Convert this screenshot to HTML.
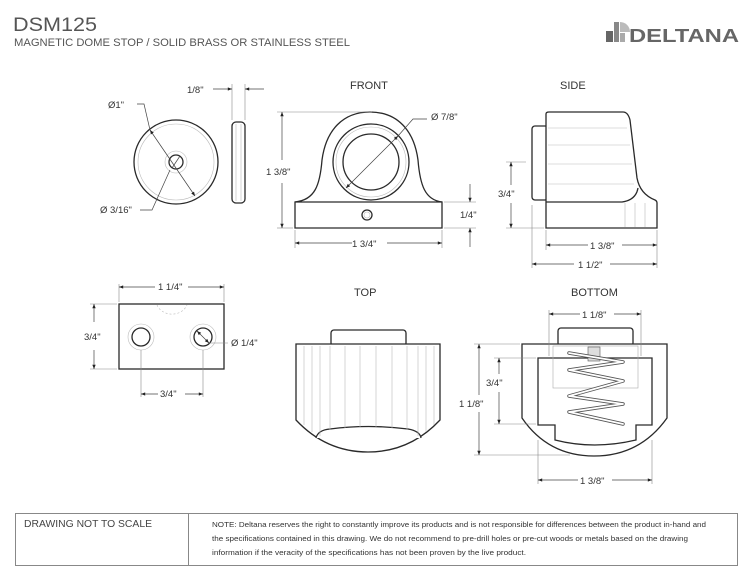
<!DOCTYPE html>
<html><head><meta charset="utf-8"><style>
html,body{margin:0;padding:0;background:#fff}
svg{display:block}
text{font-family:"Liberation Sans",Arial,sans-serif;fill:#333}
.o{fill:#fff;stroke:#2a2a2a;stroke-width:1.3}
.t{fill:none;stroke:#888;stroke-width:0.6}
.d{fill:none;stroke:#444;stroke-width:0.7}
.g{fill:none;stroke:#bbb;stroke-width:0.6}
</style></head><body>
<svg width="754" height="581" viewBox="0 0 754 581" xmlns="http://www.w3.org/2000/svg">
<defs>
<marker id="a" viewBox="0 0 10 10" refX="10" refY="5" markerWidth="9" markerHeight="6" orient="auto-start-reverse"><path d="M0,1 L10,5 L0,9 Z" fill="#222"/></marker>
</defs>
<!-- header -->
<text x="13" y="31" font-size="19" style="fill:#555" textLength="84" lengthAdjust="spacingAndGlyphs">DSM125</text>
<text x="14" y="46" font-size="11" style="fill:#555" textLength="336" lengthAdjust="spacingAndGlyphs">MAGNETIC DOME STOP / SOLID BRASS OR STAINLESS STEEL</text>
<rect x="606" y="31" width="7" height="11" fill="#666"/>
<rect x="614" y="22" width="5" height="20" fill="#888"/>
<path d="M620,22 A10,10 0 0 1 630,32 L620,32Z" fill="#bbb"/>
<rect x="620" y="33" width="5" height="9" fill="#aaa"/>
<text x="629" y="42" font-size="18" font-weight="bold" style="fill:#666" textLength="110" lengthAdjust="spacingAndGlyphs">DELTANA</text>

<g font-size="9.5">
<!-- disc -->
<circle cx="176" cy="162" r="42" class="o"/>
<circle cx="176" cy="162" r="38" class="g"/>
<circle cx="176" cy="162" r="11" class="g"/>
<circle cx="176" cy="162" r="7" class="o"/>
<line x1="150" y1="130" x2="195" y2="196" class="d" marker-start="url(#a)" marker-end="url(#a)"/>
<path d="M137,104 H144 L150,130" class="d"/>
<path d="M140,210 H152 L170,170" class="d"/>
<line x1="172" y1="168" x2="180" y2="156" class="d"/>
<text x="108" y="108">Ø1"</text>
<text x="100" y="213">Ø 3/16"</text>
<!-- edge -->
<rect x="232" y="122" width="13" height="81" rx="4" class="o"/>
<line x1="236" y1="124" x2="236" y2="201" class="g"/>
<line x1="241" y1="124" x2="241" y2="201" class="g"/>
<line x1="232" y1="84" x2="232" y2="120" class="t"/>
<line x1="245" y1="84" x2="245" y2="120" class="t"/>
<line x1="213" y1="89" x2="232" y2="89" class="d" marker-end="url(#a)"/>
<line x1="264" y1="89" x2="245" y2="89" class="d" marker-end="url(#a)"/>
<text x="187" y="93">1/8"</text>

<!-- FRONT -->
<text x="350" y="89" font-size="11">FRONT</text>
<path d="M295,202 C315,200 320,185 322,160 C326,130 343,112 370,112 C397,112 414,130 418,160 C420,185 425,200 442,202 L442,228 L295,228 Z" class="o"/>
<line x1="295" y1="202" x2="442" y2="202" class="o"/>
<circle cx="371" cy="162" r="38" class="o"/>
<circle cx="371" cy="162" r="35" class="g"/>
<circle cx="371" cy="162" r="28" class="o"/>
<circle cx="367" cy="215" r="5" class="o"/>
<circle cx="367" cy="215" r="3" class="g"/>
<line x1="346" y1="188" x2="398" y2="136" class="d" marker-start="url(#a)" marker-end="url(#a)"/>
<path d="M398,136 L413,119 H427" class="d"/>
<text x="431" y="120">Ø 7/8"</text>
<line x1="277" y1="112" x2="372" y2="112" class="t"/>
<line x1="277" y1="228" x2="293" y2="228" class="t"/>
<line x1="282" y1="112" x2="282" y2="160" class="d" marker-start="url(#a)"/>
<line x1="282" y1="183" x2="282" y2="228" class="d" marker-end="url(#a)"/>
<text x="266" y="175">1 3/8"</text>
<line x1="444" y1="202" x2="476" y2="202" class="t"/>
<line x1="444" y1="228" x2="476" y2="228" class="t"/>
<line x1="470" y1="184" x2="470" y2="202" class="d" marker-end="url(#a)"/>
<line x1="470" y1="247" x2="470" y2="228" class="d" marker-end="url(#a)"/>
<text x="460" y="218">1/4"</text>
<line x1="295" y1="230" x2="295" y2="248" class="t"/>
<line x1="442" y1="230" x2="442" y2="248" class="t"/>
<line x1="352" y1="243" x2="295" y2="243" class="d" marker-end="url(#a)"/>
<line x1="387" y1="243" x2="442" y2="243" class="d" marker-end="url(#a)"/>
<text x="352" y="247">1 3/4"</text>

<!-- SIDE -->
<text x="560" y="89" font-size="11">SIDE</text>
<rect x="532" y="126" width="16" height="74" rx="3" class="o"/>
<path d="M546,202 V114 Q546,112 549,112 H623 Q628,112 630,120 L637,178 Q640,194 655,200 Q657,201 657,203 V228 H546 Z" class="o"/>
<path d="M546,202 H622 Q636,200 638,188" class="o"/>
<line x1="548" y1="128" x2="627" y2="128" class="g"/>
<line x1="548" y1="145" x2="630" y2="145" class="g"/>
<line x1="548" y1="164" x2="632" y2="164" class="g"/>
<line x1="548" y1="184" x2="634" y2="184" class="g"/>
<line x1="625" y1="203" x2="625" y2="227" class="g"/>
<line x1="635" y1="203" x2="635" y2="227" class="g"/>
<line x1="645" y1="203" x2="645" y2="227" class="g"/>
<line x1="506" y1="162" x2="526" y2="162" class="t"/>
<line x1="506" y1="228" x2="544" y2="228" class="t"/>
<line x1="511" y1="162" x2="511" y2="185" class="d" marker-start="url(#a)"/>
<line x1="511" y1="203" x2="511" y2="228" class="d" marker-end="url(#a)"/>
<text x="498" y="197">3/4"</text>
<line x1="532" y1="205" x2="532" y2="268" class="t"/>
<line x1="546" y1="230" x2="546" y2="250" class="t"/>
<line x1="657" y1="230" x2="657" y2="268" class="t"/>
<line x1="588" y1="245" x2="546" y2="245" class="d" marker-end="url(#a)"/>
<line x1="622" y1="245" x2="657" y2="245" class="d" marker-end="url(#a)"/>
<text x="590" y="249">1 3/8"</text>
<line x1="574" y1="264" x2="532" y2="264" class="d" marker-end="url(#a)"/>
<line x1="610" y1="264" x2="657" y2="264" class="d" marker-end="url(#a)"/>
<text x="578" y="268">1 1/2"</text>

<!-- plate -->
<rect x="119" y="304" width="105" height="65" class="o"/>
<path d="M157,305 A16,14 0 0 0 187,305" fill="none" stroke="#bbb" stroke-width="0.6" stroke-dasharray="2,2"/>
<circle cx="141" cy="337" r="13" class="g"/>
<circle cx="141" cy="337" r="9" class="o"/>
<circle cx="203" cy="337" r="13" class="g"/>
<circle cx="203" cy="337" r="9" class="o"/>
<line x1="197" y1="331" x2="209" y2="343" class="d" marker-start="url(#a)" marker-end="url(#a)"/>
<line x1="209" y1="343" x2="228" y2="343" class="t"/>
<text x="231" y="346">Ø 1/4"</text>
<line x1="119" y1="284" x2="119" y2="302" class="t"/>
<line x1="224" y1="284" x2="224" y2="302" class="t"/>
<line x1="155" y1="287" x2="119" y2="287" class="d" marker-end="url(#a)"/>
<line x1="188" y1="287" x2="224" y2="287" class="d" marker-end="url(#a)"/>
<text x="158" y="290">1 1/4"</text>
<line x1="90" y1="304" x2="117" y2="304" class="t"/>
<line x1="90" y1="369" x2="117" y2="369" class="t"/>
<line x1="94" y1="322" x2="94" y2="304" class="d" marker-end="url(#a)"/>
<line x1="94" y1="350" x2="94" y2="369" class="d" marker-end="url(#a)"/>
<text x="84" y="340">3/4"</text>
<line x1="141" y1="350" x2="141" y2="397" class="t"/>
<line x1="203" y1="350" x2="203" y2="397" class="t"/>
<line x1="158" y1="394" x2="141" y2="394" class="d" marker-end="url(#a)"/>
<line x1="185" y1="394" x2="203" y2="394" class="d" marker-end="url(#a)"/>
<text x="160" y="397">3/4"</text>

<!-- TOP -->
<text x="354" y="296" font-size="11">TOP</text>
<rect x="331" y="330" width="75" height="16" rx="3" class="o"/>
<path d="M296,344 H440 V420 Q410,452 368,452 Q326,452 296,420 Z" class="o"/>
<path d="M316,438 Q318,430 330,429 Q368,424 408,429 Q420,431 421,438" class="o"/>
<g class="g">
<line x1="304" y1="346" x2="304" y2="425"/><line x1="312" y1="346" x2="312" y2="432"/><line x1="320" y1="346" x2="320" y2="436"/><line x1="330" y1="346" x2="330" y2="430"/><line x1="345" y1="346" x2="345" y2="428"/><line x1="360" y1="346" x2="360" y2="427"/><line x1="376" y1="346" x2="376" y2="427"/><line x1="392" y1="346" x2="392" y2="428"/><line x1="407" y1="346" x2="407" y2="430"/><line x1="418" y1="346" x2="418" y2="436"/><line x1="426" y1="346" x2="426" y2="432"/><line x1="434" y1="346" x2="434" y2="425"/>
</g>

<!-- BOTTOM -->
<text x="571" y="296" font-size="11">BOTTOM</text>
<rect x="558" y="328" width="75" height="18" rx="3" class="o"/>
<path d="M522,344 H667 V418 Q640,456 594,456 Q548,456 522,418 Z" class="o"/>
<path d="M538,358 H652 V425 H636 V440 Q594,450 555,440 V425 H538 Z" class="o"/>
<rect x="553" y="346" width="85" height="42" fill="none" stroke="#aaa" stroke-width="0.6"/>
<rect x="588" y="347" width="12" height="14" fill="#ddd" stroke="#555" stroke-width="0.6"/>
<path d="M569,353 L623,362 L569,370 L623,381 L569,396 L623,404 L569,412 L623,424" stroke="#555" stroke-width="3.5" stroke-linejoin="round" stroke-linecap="round" fill="none"/>
<path d="M569,353 L623,362 L569,370 L623,381 L569,396 L623,404 L569,412 L623,424" stroke="#fff" stroke-width="1.8" stroke-linejoin="round" stroke-linecap="round" fill="none"/>
<line x1="549" y1="310" x2="549" y2="356" class="t"/>
<line x1="641" y1="310" x2="641" y2="356" class="t"/>
<line x1="580" y1="314" x2="549" y2="314" class="d" marker-end="url(#a)"/>
<line x1="614" y1="314" x2="641" y2="314" class="d" marker-end="url(#a)"/>
<text x="582" y="318">1 1/8"</text>
<line x1="494" y1="358" x2="536" y2="358" class="t"/>
<line x1="494" y1="424" x2="536" y2="424" class="t"/>
<line x1="499" y1="374" x2="499" y2="358" class="d" marker-end="url(#a)"/>
<line x1="499" y1="392" x2="499" y2="424" class="d" marker-end="url(#a)"/>
<text x="486" y="386">3/4"</text>
<line x1="474" y1="344" x2="520" y2="344" class="t"/>
<line x1="474" y1="455" x2="570" y2="455" class="t"/>
<line x1="479" y1="395" x2="479" y2="344" class="d" marker-end="url(#a)"/>
<line x1="479" y1="412" x2="479" y2="455" class="d" marker-end="url(#a)"/>
<text x="459" y="407">1 1/8"</text>
<line x1="538" y1="440" x2="538" y2="484" class="t"/>
<line x1="652" y1="440" x2="652" y2="484" class="t"/>
<line x1="578" y1="480" x2="538" y2="480" class="d" marker-end="url(#a)"/>
<line x1="612" y1="480" x2="652" y2="480" class="d" marker-end="url(#a)"/>
<text x="580" y="484">1 3/8"</text>
</g>

<!-- footer table -->
<rect x="15.5" y="513.5" width="722" height="52" fill="#fff" stroke="#888" stroke-width="1"/>
<line x1="188.5" y1="513" x2="188.5" y2="566" stroke="#888"/>
<text x="24" y="527" font-size="10" style="fill:#444" textLength="128" lengthAdjust="spacingAndGlyphs">DRAWING NOT TO SCALE</text>
<g font-size="7.2" style="fill:#444">
<text x="212" y="527" textLength="494" lengthAdjust="spacingAndGlyphs">NOTE: Deltana reserves the right to constantly improve its products and is not responsible for differences between the product in-hand and</text>
<text x="212" y="541" textLength="476" lengthAdjust="spacingAndGlyphs">the specifications contained in this drawing. We do not recommend to pre-drill holes or pre-cut woods or metals based on the drawing</text>
<text x="212" y="555" textLength="314" lengthAdjust="spacingAndGlyphs">information if the veracity of the specifications has not been proven by the live product.</text>
</g>
</svg>
</body></html>
